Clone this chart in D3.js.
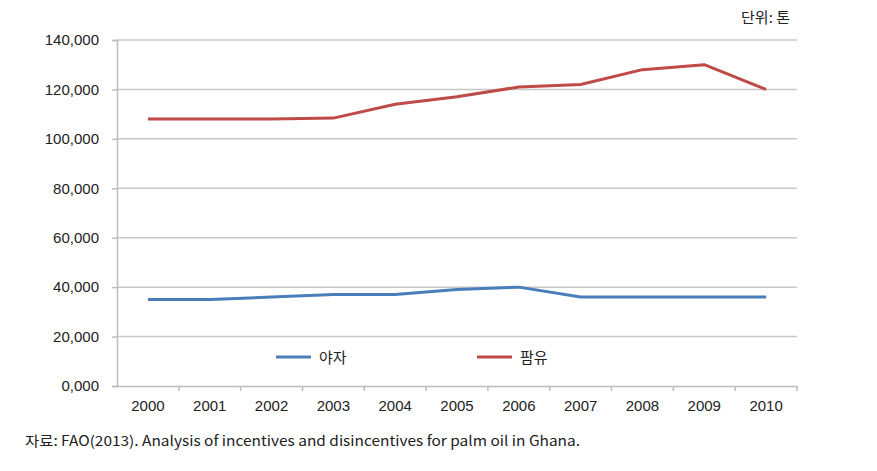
<!DOCTYPE html>
<html><head><meta charset="utf-8">
<script src="https://cdn.jsdelivr.net/npm/d3@7"></script>
<style>body{margin:0;background:#fff}svg{display:block}</style>
</head><body>
<svg id="c" width="877" height="471"></svg>
<script>
const years = ["2000","2001","2002","2003","2004","2005","2006","2007","2008","2009","2010"];
const palmNut = [35000,35000,36000,37000,37000,39000,40000,36000,36000,36000,36000];
const palmOil = [108000,108000,108000,108400,114000,117000,121000,122000,128000,130000,120000];
const yTicks = [0,20000,40000,60000,80000,100000,120000,140000];
const seriesNames = ["야자","팜유"];
const colors = ["#4a7ebb","#be4b48"];

const svg = d3.select("#c");
const L = 117, R = 797, T = 40, B = 386;
const x = d3.scaleBand().domain(years).range([L, R]);
const y = d3.scaleLinear().domain([0,140000]).range([B, T]);
const font = "'Liberation Sans', Arial, sans-serif";
const kfont = "'Noto Sans CJK KR', sans-serif";

// gridlines
svg.append("g").selectAll("line").data(yTicks.filter(d=>d>0)).join("line")
  .attr("x1", L).attr("x2", R).attr("y1", d=>y(d)).attr("y2", d=>y(d))
  .attr("stroke","#c8c8c8").attr("stroke-width",1.5);

// y axis
const fmt = d => d===0 ? "0,000" : d3.format(",")(d);
const ya = svg.append("g").attr("transform",`translate(${L},0)`)
  .call(d3.axisLeft(y).tickValues(yTicks).tickFormat(fmt).tickSize(5).tickPadding(13));
ya.select(".domain").attr("stroke","#bdbdbd").attr("stroke-width",1.5);
ya.selectAll(".tick line").attr("stroke","#bdbdbd").attr("stroke-width",1.5);
ya.selectAll("text").attr("font-family",font).attr("font-size",15).attr("fill","#222");

// x axis
const xa = svg.append("g").attr("transform",`translate(0,${B})`)
  .call(d3.axisBottom(x).tickSize(0).tickPadding(14));
xa.select(".domain").attr("stroke","#bdbdbd").attr("stroke-width",1.5);
xa.selectAll("text").attr("font-family",font).attr("font-size",15).attr("fill","#222");
svg.append("g").selectAll("line").data(years.slice(1).concat(["end"])).join("line")
  .attr("x1", (d,i)=> i<years.length-1 ? x(d) : R).attr("x2",(d,i)=> i<years.length-1 ? x(d) : R)
  .attr("y1", B).attr("y2", B+5).attr("stroke","#bdbdbd").attr("stroke-width",1.5);

// lines
const line = d3.line().x((d,i)=>x(years[i])+x.bandwidth()/2).y(d=>y(d));
[palmNut, palmOil].forEach((s,k)=>{
  svg.append("path").datum(s).attr("d",line).attr("fill","none")
    .attr("stroke",colors[k]).attr("stroke-width",3).attr("stroke-linejoin","round");
});

// legend
const lg = [{x:276},{x:477}];
seriesNames.forEach((n,k)=>{
  svg.append("line").attr("x1",lg[k].x).attr("x2",lg[k].x+35).attr("y1",357).attr("y2",357)
    .attr("stroke",colors[k]).attr("stroke-width",3);
  svg.append("text").attr("x",lg[k].x+43).attr("y",363).text(n)
    .attr("font-family",kfont).attr("font-size",15).attr("fill","#222");
});

// unit label
svg.append("text").attr("x",790).attr("y",23).attr("text-anchor","end").text("단위: 톤")
  .attr("font-family",kfont).attr("font-size",15).attr("fill","#222");

// source
svg.append("text").attr("x",25).attr("y",446)
  .text("자료: FAO(2013). Analysis of incentives and disincentives for palm oil in Ghana.")
  .attr("font-family",kfont).attr("font-size",14).attr("fill","#222")
  .attr("textLength",555).attr("lengthAdjust","spacingAndGlyphs");
</script>
</body></html>
